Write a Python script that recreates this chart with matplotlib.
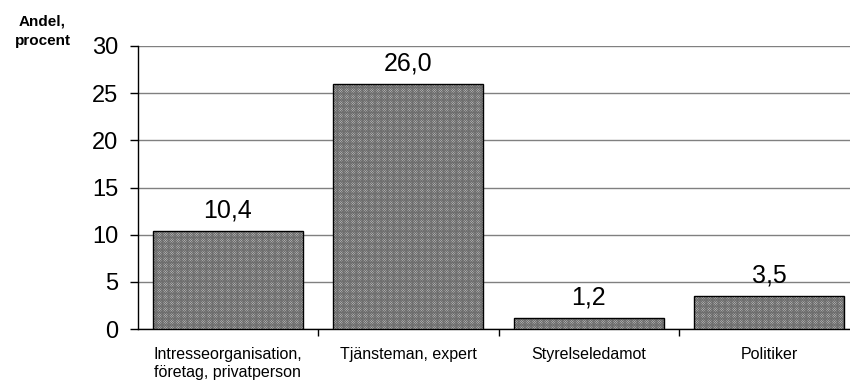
import matplotlib
matplotlib.use('Agg')
import matplotlib.pyplot as plt
import numpy as np

categories = ['Intresseorganisation,\nföretag, privatperson', 'Tjänsteman, expert',
              'Styrelseledamot', 'Politiker']
values = [10.4, 26.0, 1.2, 3.5]
yticks = [0, 5, 10, 15, 20, 25, 30]

plt.rcParams['font.family'] = ['Liberation Sans', 'DejaVu Sans']
plt.rcParams['hatch.linewidth'] = 0.6

fig = plt.figure(figsize=(8.5, 3.8), dpi=100)
# the plot area runs a little past the right edge, like the original
ax = fig.add_axes([0.162, 0.134, 0.849, 0.745])

x = np.arange(len(categories))
# checkered fill first (hatch takes the edge colour), then a black outline
ax.bar(x, values, width=0.83, facecolor='#cfcfcf', edgecolor='#6e6e6e',
       linewidth=0, hatch='x' * 14, zorder=3)
ax.bar(x, values, width=0.83, fill=False, edgecolor='black',
       linewidth=1.0, zorder=4)

for xi, v in zip(x, values):
    ax.text(xi, v + 1.4, f'{v:.1f}'.replace('.', ','), ha='center', va='baseline',
            fontsize=18)

ax.set_xlim(-0.5, len(categories) - 0.5)
ax.set_ylim(0, 30)
ax.set_yticks(yticks)
ax.tick_params(axis='y', labelsize=17, length=6, width=1, direction='out', pad=8)
ax.set_xticks(x)
ax.set_xticklabels(categories, fontsize=11.5)
ax.set_xticks(np.arange(0.5, len(categories) - 0.5, 1), minor=True)
ax.tick_params(axis='x', which='major', length=0, pad=13)
ax.tick_params(axis='x', which='minor', length=5, width=1)

ax.yaxis.grid(True, color='#808080', linewidth=1, zorder=0)
for side in ['top', 'right']:
    ax.spines[side].set_visible(False)
ax.spines['left'].set_linewidth(1)
ax.spines['bottom'].set_linewidth(1)

fig.text(0.05, 0.918, 'Andel,\nprocent', ha='center', va='center',
         fontsize=11, fontweight='bold', linespacing=1.45)

fig.savefig('out.png', dpi=100)
